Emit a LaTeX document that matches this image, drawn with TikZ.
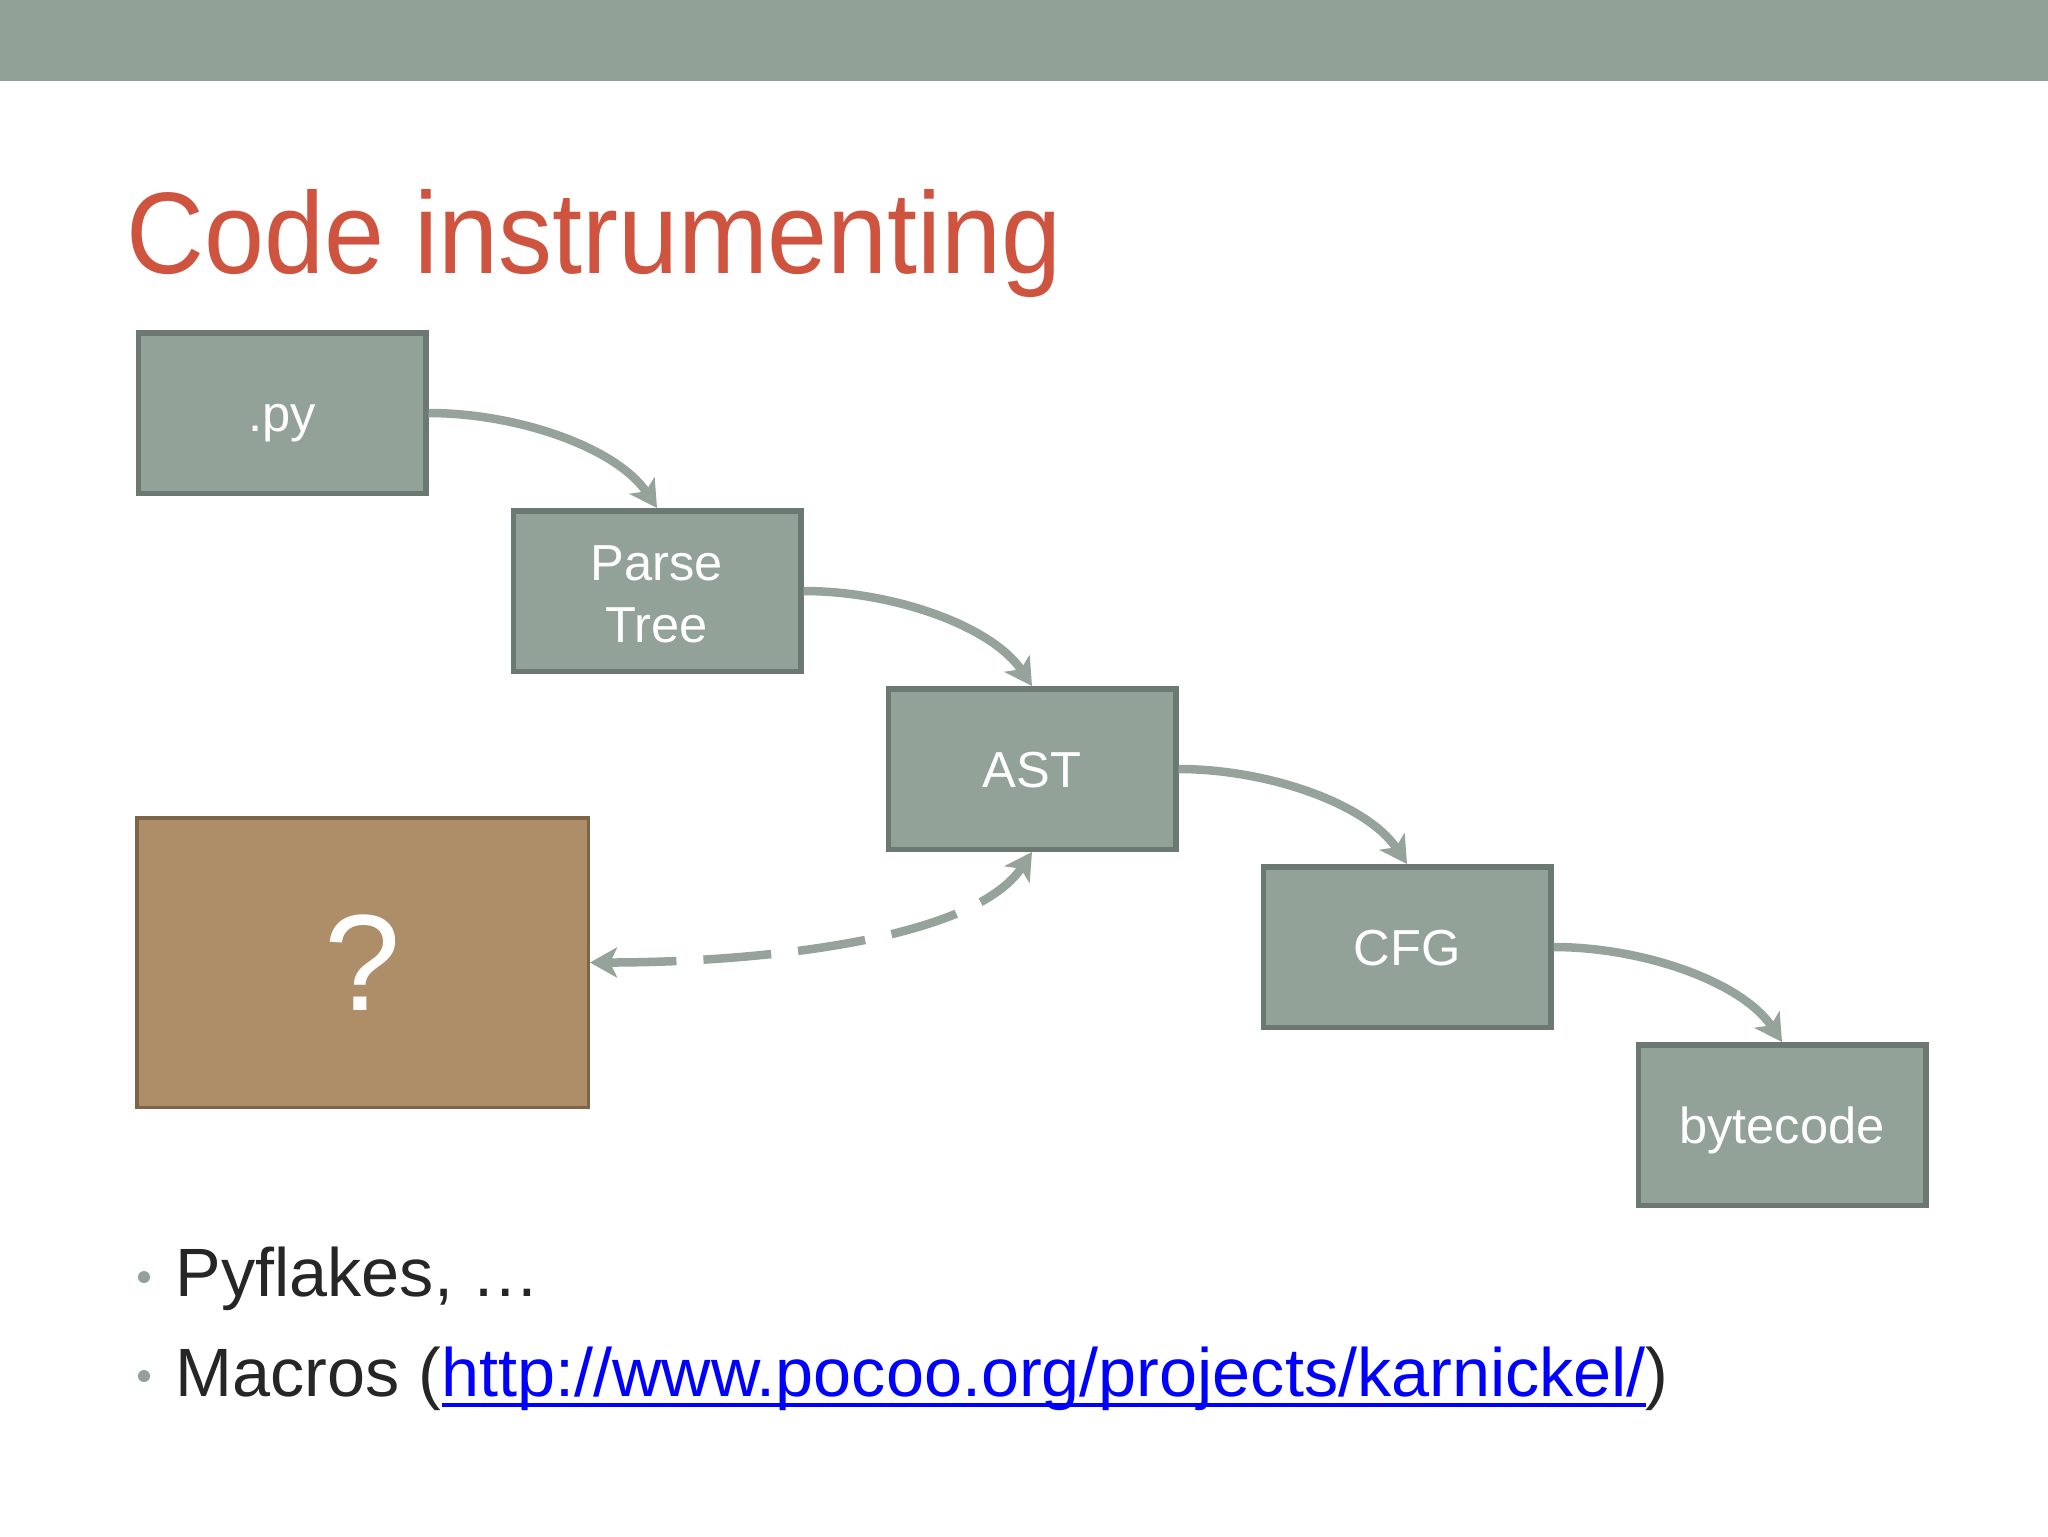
\documentclass[tikz,border=0pt]{standalone}
\usepackage{fontspec}
\usepackage{graphicx}
\setmainfont{Liberation Sans}
\usetikzlibrary{arrows.meta}
\definecolor{barcol}{HTML}{91A198}
\definecolor{boxfill}{HTML}{93A299}
\definecolor{boxline}{HTML}{6C7872}
\definecolor{arrcol}{HTML}{95A39B}
\definecolor{qfill}{HTML}{AD8E68}
\definecolor{qline}{HTML}{7E6548}
\definecolor{titlecol}{HTML}{CF543F}
\definecolor{txtcol}{HTML}{262626}
\definecolor{linkcol}{HTML}{0000FF}
\newsavebox\lnkbox
\newcommand{\linkul}[1]{\sbox\lnkbox{#1}\rlap{\rule[-0.165em]{\wd\lnkbox}{0.06em}}\usebox\lnkbox}
\begin{document}
\begin{tikzpicture}[x=0.1mm,y=-0.1mm,
  stepbox/.style={draw=boxline, fill=boxfill, line width=0.55mm, minimum width=28.75mm,
    minimum height=16.05mm, inner sep=0pt, text=white, font=\fontsize{14.4}{17.5}\selectfont},
  oneline/.style={text height=3.65mm, text depth=0pt},
  qbox/.style={draw=qline, fill=qfill, line width=0.35mm, minimum width=45.15mm,
    minimum height=28.95mm, inner sep=0pt, text=white, font=\fontsize{39}{44}\selectfont},
  flow/.style={draw=arrcol, line width=0.85mm, -{Stealth[length=2.7mm,width=3mm,inset=0.7mm]}},
  dflow/.style={draw=arrcol, line width=0.85mm, dash pattern=on 6.8mm off 2.7mm,
    {Stealth[length=2.7mm,width=3mm,inset=0.7mm]}-{Stealth[length=2.7mm,width=3mm,inset=0.7mm]}},
  bulletdot/.style={circle, fill=boxfill, minimum size=1.2mm, inner sep=0pt},
  bodytext/.style={anchor=base west, inner sep=0pt, text=txtcol, font=\fontsize{19.45}{23}\selectfont}
]
\useasboundingbox (0,0) rectangle (2048,1536);
\fill[white] (0,0) rectangle (2048,1536);
\fill[barcol] (0,0) rectangle (2048,81);

\node[anchor=base west, inner sep=0pt, text=titlecol, font=\fontsize{33}{36}\selectfont]
  (title) at (126,273) {\scalebox{0.93}[1]{Code instrumenting}};

\node[stepbox, oneline] (py) at (282,413) {.py};
\node[stepbox] (pt) at (657,591) {\raisebox{-0.8mm}[\height][\depth]{\begin{tabular}{@{}c@{}}Parse\\Tree\end{tabular}}};
\node[stepbox, oneline] (ast) at (1032,769) {AST};
\node[stepbox, oneline] (cfg) at (1407,947) {CFG};
\node[stepbox, oneline] (bc) at (1782,1125) {bytecode};
\node[qbox] (q) at (362.5,962.5) {?};

\draw[flow] (py.east) .. controls +(90,0) and +(-40,-60) .. (pt.north);
\draw[flow] (pt.east) .. controls +(90,0) and +(-40,-60) .. (ast.north);
\draw[flow] (ast.east) .. controls +(90,0) and +(-40,-60) .. (cfg.north);
\draw[flow] (cfg.east) .. controls +(90,0) and +(-40,-60) .. (bc.north);
\draw[dflow] (q.east) .. controls +(160,0) and +(-60,90) .. (ast.south);

\node[bulletdot] (d1) at (144,1277) {};
\node[bulletdot] (d2) at (144,1376) {};
\node[bodytext] (l1) at (175,1296) {Pyflakes, …};
\node[bodytext] (l2) at (175,1396) {Macros (\textcolor{linkcol}{\linkul{http://www.pocoo.org/projects/karnickel/}})};
\end{tikzpicture}
\end{document}
